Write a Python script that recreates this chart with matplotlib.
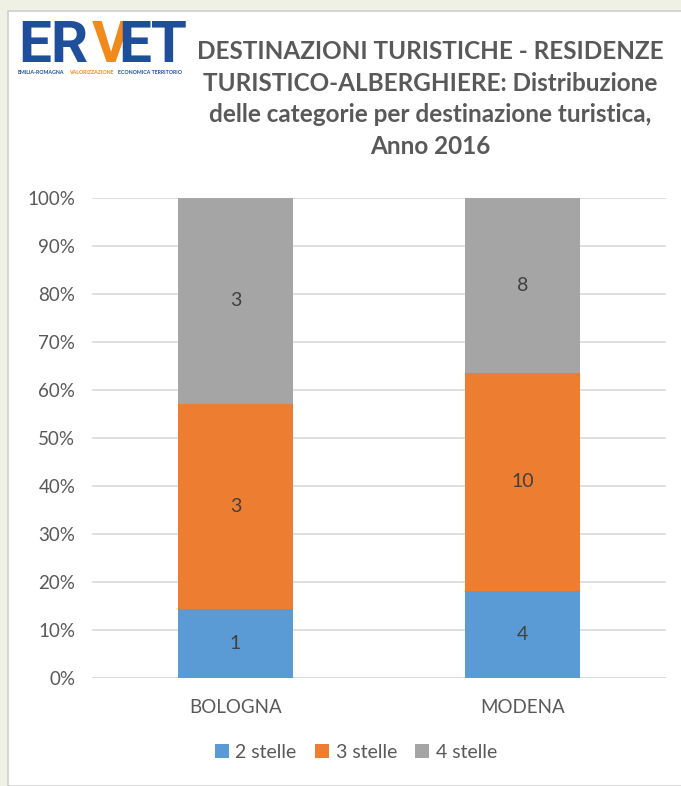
import numpy as np
import matplotlib
matplotlib.use("Agg")
import matplotlib.pyplot as plt
from matplotlib.patches import Rectangle

# Residenze turistico-alberghiere per categoria, anno 2016
destinations = ["BOLOGNA", "MODENA"]
series_names = ["2 stelle", "3 stelle", "4 stelle"]
counts_2 = [1, 4]
counts_3 = [3, 10]
counts_4 = [3, 8]
y_ticks = [0, 10, 20, 30, 40, 50, 60, 70, 80, 90, 100]

colors = ["#5B9BD5", "#ED7D31", "#A5A5A5"]
text_grey = "#595959"

plt.rcParams["font.family"] = ["Lato", "DejaVu Sans"]

fig = plt.figure(figsize=(6.81, 7.86), dpi=100)

# slide-like frame around the chart
fig.patches.append(Rectangle((0, 0), 1, 1, transform=fig.transFigure,
                             facecolor="#EEF1E3", edgecolor="none", zorder=-3))
fig.patches.append(Rectangle((8 / 681, 0), 1, 1 - 11 / 786, transform=fig.transFigure,
                             facecolor="white", edgecolor="#CFCFCF", lw=1.2, zorder=-2))

ax = fig.add_axes([92 / 681, 1 - 678 / 786, 574 / 681, 480 / 786])

data = np.array([counts_2, counts_3, counts_4], dtype=float)
shares = data / data.sum(axis=0) * 100
x = np.arange(len(destinations))
bottom = np.zeros(len(destinations))
for name, vals, pct, col in zip(series_names, data, shares, colors):
    ax.bar(x, pct, 0.4, bottom=bottom, color=col, label=name, zorder=2)
    for xi, v, p, b in zip(x, vals, pct, bottom):
        ax.text(xi, b + p / 2, f"{int(v)}", ha="center", va="center",
                fontsize=14, color="#404040", zorder=3)
    bottom += pct

ax.set_xlim(-0.5, 1.5)
ax.set_ylim(0, 100)
ax.set_yticks(y_ticks)
ax.set_yticklabels([f"{t}%" for t in y_ticks])
ax.set_xticks(x)
ax.set_xticklabels(destinations)
ax.tick_params(axis="both", length=0, labelsize=13.5, labelcolor=text_grey)
ax.tick_params(axis="y", pad=12)
ax.tick_params(axis="x", pad=15)
ax.yaxis.grid(True, color="#D9D9D9", lw=1.2, zorder=0)
for s in ax.spines.values():
    s.set_visible(False)
ax.axhline(0, color="#D9D9D9", lw=1.2, zorder=1)

ax.legend(loc="center", bbox_to_anchor=(0.46, -0.155), ncol=3, frameon=False,
          fontsize=14, labelcolor=text_grey, handlelength=0.7, handleheight=0.7,
          handletextpad=0.35, columnspacing=0.95)

fig.text(430 / 681, 1 - 99 / 786,
         "DESTINAZIONI TURISTICHE - RESIDENZE\n"
         "TURISTICO-ALBERGHIERE: Distribuzione\n"
         "delle categorie per destinazione turistica,\n"
         "Anno 2016",
         ha="center", va="center", fontsize=17.5, fontweight="bold",
         color=text_grey, linespacing=1.45)

# logo
blue = "#1F4E9A"
orange = "#F08A1C"
logo_y = 1 - 62 / 786
for letter, xpos, col in [("ER", 18, blue), ("V", 92, orange), ("ET", 118, blue)]:
    fig.text(xpos / 681, logo_y, letter, ha="left", va="baseline", fontsize=42,
             fontweight="bold", color=col, family=["Roboto", "DejaVu Sans"])
sub_y = 1 - 74 / 786
for word, xpos, col in [("EMILIA-ROMAGNA", 18, blue), ("VALORIZZAZIONE", 69, orange),
                        ("ECONOMICA TERRITORIO", 118, blue)]:
    fig.text(xpos / 681, sub_y, word, fontsize=3.8, fontweight="bold",
             color=col, va="baseline")

fig.savefig("out.png", dpi=100)
